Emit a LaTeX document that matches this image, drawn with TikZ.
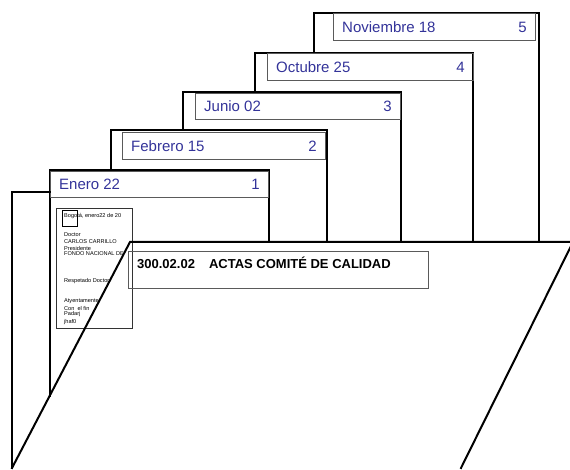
\documentclass[tikz,border=0pt]{standalone}
\usepackage{fontspec}
\setmainfont{Liberation Sans}
\usetikzlibrary{positioning}
\definecolor{tabblue}{RGB}{51,51,153}
\definecolor{boxgray}{RGB}{90,90,90}

\begin{document}
\begin{tikzpicture}[
    x=1pt, y=-1pt,
    edge/.style={line width=2pt, line cap=rect},
    tabbox/.style={draw=boxgray, line width=0.8pt},
    tabname/.style={font=\fontsize{15}{17}\selectfont, text=tabblue, anchor=base west, inner sep=0pt},
    tabnum/.style={font=\fontsize{15}{17}\selectfont, text=tabblue, anchor=base east, inner sep=0pt},
    lettertext/.style={font=\fontsize{5.6}{6}\selectfont, anchor=west, inner sep=0pt},
    titletext/.style={font=\fontsize{13}{15}\selectfont\bfseries, anchor=west, inner sep=0pt}
]
\useasboundingbox (0,0) rectangle (570,470);

% front folder corners
\coordinate (frontTL) at (130,242);
\coordinate (frontTR) at (573,242);
\coordinate (frontBR) at (461,468);
\coordinate (frontBL) at (12,468);
\coordinate (backTL) at (12,192);

% folders behind, from back to front
\foreach \l/\t/\r/\b in {314/13/539/53, 255/53/473/92, 183/92/401/130, 111/130/327/170}
  \draw[edge] (\l,\b) -- (\l,\t) -- (\r,\t) -- (\r,242);
\draw[edge] (50,396) -- (50,170) -- (269,170) -- (269,242);

% tabs
\foreach \l/\t/\r/\b/\name/\num in {333/13/535/40/Noviembre 18/5, 267/53/473/80/Octubre 25/4,
    195/93/400/119/Junio 02/3, 122/132/325/159/Febrero 15/2, 50/171/268/197/Enero 22/1} {
  \draw[tabbox] (\l,\t) rectangle (\r,\b);
  \node[tabname] (tab\num) at (\l+9,\b-7) {\name};
  \node[tabnum] (num\num) at (\r-8,\b-7) {\num};
}

% letter inside the first folder
\draw[tabbox, draw=black!80, line width=0.6pt] (56,208) rectangle (132,328);
\draw[tabbox, draw=black, line width=0.6pt] (62,210) rectangle (77,226);
\begin{scope}
  \clip (56,208) rectangle (132,328);
  \node[lettertext] (date) at (64,216) {Bogotá, enero22 de 20};
  \node[lettertext] (l1) at (64,235) {Doctor};
  \node[lettertext] (l2) at (64,242) {CARLOS CARRILLO};
  \node[lettertext] (l3) at (64,248) {Presidente};
  \node[lettertext] (l4) at (64,254) {FONDO NACIONAL DE};
  \node[lettertext] (l5) at (64,281) {Respetado Doctor};
  \node[lettertext] (l6) at (64,301) {Atyentamente};
  \node[lettertext] (l7) at (64,308) {Con \ el fin};
  \node[lettertext] (l8) at (64,314) {Padarj};
  \node[lettertext] (l9) at (64,322) {jhaf0};
\end{scope}

% back and front of the folder
\draw[edge] (frontBL) -- (backTL) -- (50,192);
\draw[edge] (frontBL) -- (frontTL) -- (frontTR);
\draw[edge] (frontTR) -- (frontBR);

% label on the front folder
\draw[tabbox] (128,251) rectangle (428,288);
\node[titletext] (title) at (137,263) {300.02.02\hspace{14pt}ACTAS COMITÉ DE CALIDAD};
\end{tikzpicture}
\end{document}
